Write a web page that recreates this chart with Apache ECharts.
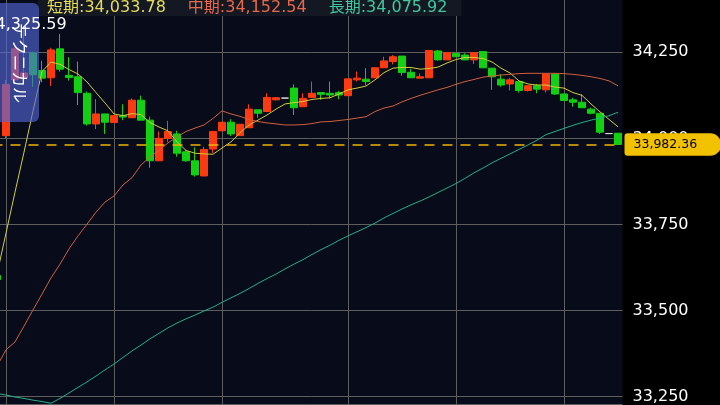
<!DOCTYPE html>
<html>
<head>
<meta charset="utf-8">
<script src="https://cdn.jsdelivr.net/npm/echarts@6/dist/echarts.min.js"></script>
<style>
  html, body { margin: 0; padding: 0; background: #000; }
  #main { width: 720px; height: 405px; }
</style>
</head>
<body>
<div id="main"></div>
<script>
// 足の番号（横軸ラベルは非表示）
const categories = Array.from({ length: 70 }, (_, i) => String(i + 1));

// [始値, 終値, 安値, 高値]
const candles = [
  [33602, 33590, 33585, 33606],
  [34008, 34157, 34000, 34170],
  [34170, 34260, 34165, 34265],
  [34175, 34190, 34168, 34325.59],
  [34248, 34185, 34150, 34252],
  [34197, 34175, 34163, 34225],
  [34176, 34257, 34152, 34263],
  [34260, 34201, 34194, 34303],
  [34183, 34177, 34168, 34236],
  [34179, 34133, 34097, 34223],
  [34131, 34042, 34037, 34136],
  [34042, 34071, 34027, 34114],
  [34071, 34047, 34013, 34071],
  [34046, 34066, 34046, 34066],
  [34066, 34062, 34053, 34099],
  [34060, 34111, 34060, 34116],
  [34111, 34053, 34053, 34124],
  [34053, 33935, 33915, 34063],
  [33935, 34000, 33935, 34020],
  [34000, 34020, 33990, 34051],
  [34013, 33957, 33947, 34022],
  [33961, 33935, 33932, 33966],
  [33935, 33894, 33889, 33974],
  [33891, 33968, 33890, 33976],
  [33969, 34020, 33958, 34022],
  [34022, 34047, 34022, 34047],
  [34047, 34013, 34007, 34056],
  [34008, 34041, 34007, 34042],
  [34031, 34085, 34031, 34099],
  [34083, 34073, 34060, 34083],
  [34078, 34119, 34078, 34131],
  [34112, 34118, 34110, 34120],
  [34117, 34117, 34117, 34117],
  [34146, 34089, 34068, 34157],
  [34092, 34116, 34092, 34131],
  [34119, 34131, 34119, 34165],
  [34133, 34128, 34112, 34133],
  [34131, 34126, 34116, 34165],
  [34133, 34126, 34114, 34138],
  [34124, 34173, 34124, 34173],
  [34170, 34175, 34165, 34194],
  [34172, 34165, 34155, 34204],
  [34176, 34205, 34176, 34207],
  [34205, 34225, 34205, 34237],
  [34223, 34237, 34215, 34242],
  [34239, 34191, 34182, 34239],
  [34192, 34176, 34176, 34202],
  [34175, 34179, 34175, 34189],
  [34176, 34255, 34176, 34257],
  [34254, 34228, 34226, 34257],
  [34228, 34249, 34228, 34249],
  [34247, 34237, 34237, 34247],
  [34242, 34228, 34228, 34247],
  [34228, 34249, 34216, 34249],
  [34252, 34205, 34205, 34254],
  [34204, 34179, 34141, 34204],
  [34172, 34155, 34150, 34187],
  [34158, 34170, 34139, 34176],
  [34165, 34139, 34133, 34165],
  [34139, 34153, 34136, 34153],
  [34153, 34143, 34131, 34158],
  [34141, 34187, 34133, 34188],
  [34187, 34129, 34126, 34188],
  [34129, 34110, 34110, 34129],
  [34112, 34105, 34092, 34118],
  [34105, 34089, 34089, 34128],
  [34085, 34073, 34070, 34089],
  [34073, 34018, 34013, 34073],
  [34014, 34014, 34014, 34014],
  [34015, 33982.36, 33982.36, 34015]
];

// 移動平均（画面から読み取り）
const maShort = [
  33606, 33725, 33844, 33960, 34080, 34194, 34222, 34215, 34200, 34187,
  34164, 34133, 34103, 34071, 34066, 34072, 34069, 34046, 34033, 34022,
  33990, 33965, 33957, 33955, 33954, 33972, 33990, 34016, 34039, 34053,
  34068, 34085, 34100, 34104, 34107, 34113, 34116, 34118, 34129, 34141,
  34146, 34152, 34170, 34191, 34204, 34206, 34206, 34201, 34203, 34207,
  34219, 34229, 34235, 34235, 34232, 34222, 34204, 34190, 34167, 34158,
  34155, 34155, 34149, 34146, 34133, 34125, 34100, 34077, 34055, 34033.78
];
const maMid = [
  33339, 33386, 33409, 33455, 33502, 33548, 33595, 33635, 33679, 33717,
  33751, 33786, 33815, 33833, 33865, 33886, 33923, 33946, 33965, 33987,
  34004, 34020, 34030, 34039, 34058, 34080, 34071, 34064, 34055, 34049,
  34045, 34042, 34039, 34039, 34040, 34043, 34048, 34049, 34052, 34055,
  34059, 34063, 34078, 34088, 34094, 34106, 34116, 34125, 34133, 34141,
  34148, 34157, 34165, 34171, 34178, 34181, 34184, 34186, 34188, 34189,
  34189, 34189, 34189, 34188, 34186, 34183, 34179, 34174, 34167, 34152.54
];
const maLong = [
  33259, 33255, 33249, 33245, 33240, 33236, 33231, 33245, 33261, 33277,
  33293, 33310, 33328, 33345, 33364, 33383, 33400, 33418, 33434, 33450,
  33464, 33476, 33487, 33499, 33510, 33524, 33537, 33550, 33564, 33579,
  33593, 33606, 33621, 33635, 33648, 33663, 33677, 33690, 33704, 33717,
  33729, 33741, 33754, 33769, 33782, 33795, 33807, 33818, 33830, 33843,
  33856, 33869, 33884, 33900, 33914, 33929, 33942, 33955, 33968, 33981,
  33995, 34011, 34020, 34029, 34038, 34046, 34053, 34059, 34066, 34075.92
];

const lastPrice = 33982.36;
const gridIdx = [1, 13, 25, 39, 51, 63]; // 縦の罫線が入る足
const yMin = 33000, yMax = 34500, yStep = 250;
const bottomEdge = 33229;

const fmt = v => v.toLocaleString('en-US', { minimumFractionDigits: 2, maximumFractionDigits: 2 });
const lastOf = {
  '短期': maShort[maShort.length - 1],
  '中期': maMid[maMid.length - 1],
  '長期': maLong[maLong.length - 1]
};

const UP = '#ff3a10';
const DOWN = '#12d012';
const GRID_LINE = '#5e5e5e';

const chart = echarts.init(document.getElementById('main'));

const option = {
  backgroundColor: '#000',
  animation: false,
  textStyle: { fontFamily: 'DejaVu Sans, "Noto Sans CJK JP", sans-serif' },
  legend: {
    left: 38,
    top: 0,
    padding: [0, 14, 0, 4],
    itemGap: 17,
    itemWidth: 0,
    itemHeight: 0,
    icon: 'none',
    selectedMode: false,
    backgroundColor: '#141823',
    textStyle: { fontSize: 16, lineHeight: 13 },
    formatter: name => name + ':' + fmt(lastOf[name]),
    data: [
      { name: '短期', textStyle: { color: '#e6dc5a' } },
      { name: '中期', textStyle: { color: '#e8684a' } },
      { name: '長期', textStyle: { color: '#40c8a0' } }
    ]
  },
  grid: {
    left: -7.5,
    right: 97.5,
    top: -33.8,
    bottom: -77.8,
    outerBoundsMode: 'none',
    containLabel: false,
    show: true,
    backgroundColor: '#080b19',
    borderWidth: 0
  },
  xAxis: {
    type: 'category',
    data: categories,
    boundaryGap: true,
    axisLine: { show: false },
    axisTick: { show: false },
    axisLabel: { show: false },
    splitLine: { show: false }
  },
  yAxis: {
    type: 'value',
    position: 'right',
    min: yMin,
    max: yMax,
    interval: yStep,
    axisLine: { show: false },
    axisTick: { show: false },
    axisLabel: {
      color: '#fff',
      fontSize: 16,
      margin: 10,
      formatter: v => v.toLocaleString('en-US')
    },
    splitLine: { lineStyle: { color: GRID_LINE, width: 1 } }
  },
  series: [
    {
      type: 'candlestick',
      name: 'price',
      data: candles,
      barWidth: 7,
      z: 2,
      itemStyle: {
        color: UP,
        color0: DOWN,
        borderColor: UP,
        borderColor0: DOWN,
        borderColorDoji: '#e0e0e0',
        borderWidth: 1
      },
      markPoint: {
        z: 60,
        symbol: 'circle',
        symbolSize: 1,
        itemStyle: { color: 'rgba(0,0,0,0)' },
        label: {
          show: true,
          position: 'top',
          distance: 0,
          offset: [2, 7],
          color: '#fff',
          fontSize: 16,
          formatter: p => fmt(p.value)
        },
        data: [{ type: 'max', valueDim: 'highest' }]
      },
      markLine: {
        silent: true,
        symbol: ['none', 'none'],
        data: [
          {
            yAxis: bottomEdge,
            lineStyle: { color: GRID_LINE, type: 'solid', width: 1 },
            label: { show: false }
          },
          {
            yAxis: lastPrice,
            lineStyle: { color: '#f0b400', type: [10, 8], width: 1.5 },
            label: {
              show: true,
              position: 'end',
              distance: 2,
              formatter: fmt(lastPrice),
              color: '#000',
              fontSize: 12.5,
              backgroundColor: '#f2c200',
              padding: [5, 24, 5, 9],
              borderRadius: [3, 11, 11, 3]
            }
          }
        ]
      }
    },
    {
      type: 'line',
      name: '短期',
      data: maShort,
      symbol: 'none',
      z: 3,
      lineStyle: { color: '#d4cc3c', width: 1 },
      itemStyle: { color: '#d4cc3c' }
    },
    {
      type: 'line',
      name: '中期',
      data: maMid,
      symbol: 'none',
      z: 3,
      lineStyle: { color: '#d0603c', width: 1 },
      itemStyle: { color: '#d0603c' }
    },
    {
      type: 'line',
      name: '長期',
      data: maLong,
      symbol: 'none',
      z: 3,
      lineStyle: { color: '#22b088', width: 1 },
      itemStyle: { color: '#22b088' },
      markLine: {
        z: 1,
        silent: true,
        symbol: ['none', 'none'],
        label: { show: false },
        lineStyle: { color: GRID_LINE, type: 'solid', width: 1 },
        data: gridIdx.map(i => ({ xAxis: categories[i] }))
      }
    }
  ],
  graphic: [
    {
      type: 'rect',
      z: 50,
      shape: { x: -8, y: 3, width: 47, height: 119, r: 6 },
      style: { fill: 'rgba(84,104,220,0.62)' }
    },
    {
      type: 'text',
      z: 51,
      x: 20,
      y: 63,
      rotation: -Math.PI / 2,
      style: {
        text: 'テクニカル',
        fill: '#fff',
        font: '16px "Noto Sans CJK JP"',
        textAlign: 'center',
        textVerticalAlign: 'middle'
      }
    }
  ]
};

chart.setOption(option);
</script>
</body>
</html>
